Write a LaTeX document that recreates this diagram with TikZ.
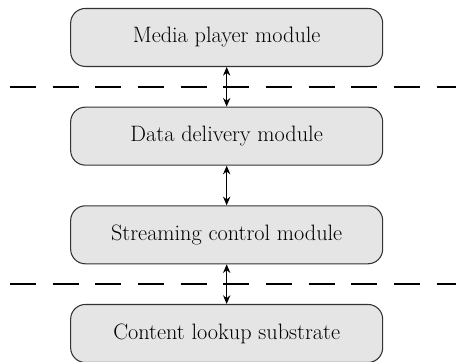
\documentclass[tikz,border=0pt]{standalone}
\usepackage{tikz}
\usetikzlibrary{arrows.meta,positioning,calc}

\begin{document}
\begin{tikzpicture}[
    module/.style={draw=black!80, line width=0.8pt, fill=black!10, rounded corners=11pt,
      minimum width=234pt, minimum height=43.5pt, font=\fontsize{16.7}{20}\selectfont},
    link/.style={{Stealth[length=6.5pt,width=5.5pt]}-{Stealth[length=6.5pt,width=5.5pt]}, line width=0.75pt},
    cutline/.style={dash pattern=on 19.5pt off 12.5pt, line width=1.5pt},
    node distance=29.7pt]
    \useasboundingbox (0,0) rectangle (342pt,-270.75pt);

    % ============================================================
    % Module stack
    % ============================================================
    \node[module] (player) at (170pt,-28.1pt) {Media player module};
    \node[module, below=of player] (delivery) {Data delivery module};
    \node[module, below=of delivery] (control) {Streaming control module};
    \node[module, below=of control] (lookup) {Content lookup substrate};

    \draw[link] (player) -- (delivery);
    \draw[link] (delivery) -- (control);
    \draw[link] (control) -- (lookup);

    % ============================================================
    % Boundaries
    % ============================================================
    \coordinate (leftend) at (7.5pt,0);
    \coordinate (rightend) at (342pt,0);
    \coordinate (cutA) at ($(player.south)!0.5!(delivery.north)$);
    \coordinate (cutB) at ($(control.south)!0.5!(lookup.north)$);

    \draw[cutline] (cutA -| leftend) -- (cutA -| rightend);
    \draw[cutline] (cutB -| leftend) -- (cutB -| rightend);
\end{tikzpicture}
\end{document}
